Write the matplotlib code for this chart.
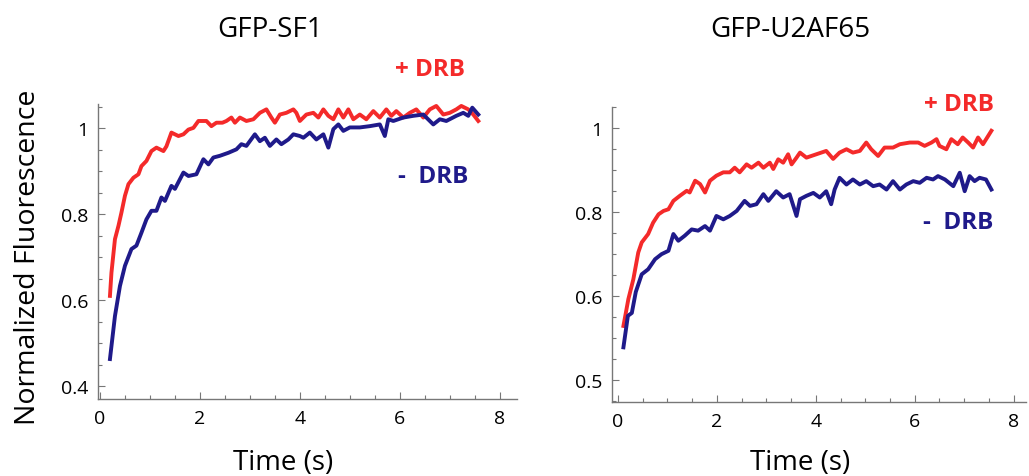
import matplotlib
matplotlib.use("Agg")
import matplotlib.pyplot as plt
from matplotlib.ticker import FixedLocator, MultipleLocator

# ---------------- data ----------------
sf1_plus_t = [0.2, 0.23, 0.3, 0.37, 0.43, 0.5, 0.57, 0.67, 0.77, 0.83, 0.93, 1.03, 1.13, 1.27, 1.33, 1.43,
              1.57, 1.67, 1.77, 1.87, 1.97, 2.13, 2.23, 2.33, 2.45, 2.53, 2.63, 2.7, 2.8, 2.93, 3.07, 3.2,
              3.33, 3.43, 3.5, 3.6, 3.73, 3.87, 3.93, 4.0, 4.13, 4.27, 4.37, 4.47, 4.57, 4.67, 4.77, 4.87,
              4.97, 5.07, 5.2, 5.33, 5.47, 5.6, 5.73, 5.83, 5.93, 6.07, 6.2, 6.33, 6.47, 6.6, 6.73, 6.87,
              7.0, 7.13, 7.23, 7.37, 7.47, 7.57]
sf1_plus_v = [0.61, 0.664, 0.742, 0.773, 0.804, 0.843, 0.87, 0.885, 0.893, 0.912, 0.924, 0.947, 0.955,
              0.947, 0.958, 0.99, 0.982, 0.986, 0.997, 1.001, 1.017, 1.017, 1.005, 1.013, 1.013, 1.017,
              1.025, 1.013, 1.025, 1.017, 1.021, 1.036, 1.044, 1.025, 1.013, 1.032, 1.036, 1.044, 1.036,
              1.017, 1.032, 1.036, 1.025, 1.044, 1.029, 1.021, 1.044, 1.025, 1.044, 1.021, 1.032, 1.021,
              1.04, 1.025, 1.044, 1.029, 1.04, 1.025, 1.036, 1.044, 1.025, 1.044, 1.052, 1.032, 1.036,
              1.044, 1.052, 1.044, 1.032, 1.017]
sf1_minus_t = [0.2, 0.3, 0.4, 0.5, 0.63, 0.73, 0.83, 0.93, 1.03, 1.13, 1.23, 1.3, 1.43, 1.5, 1.67, 1.77,
               1.93, 2.07, 2.17, 2.27, 2.4, 2.57, 2.73, 2.83, 2.93, 3.1, 3.2, 3.3, 3.4, 3.53, 3.63, 3.77,
               3.87, 4.0, 4.07, 4.2, 4.33, 4.47, 4.57, 4.67, 4.77, 4.87, 5.0, 5.2, 5.4, 5.6, 5.7, 5.77,
               5.87, 6.07, 6.27, 6.47, 6.67, 6.8, 6.93, 7.13, 7.27, 7.37, 7.45, 7.57]
sf1_minus_v = [0.463, 0.563, 0.633, 0.68, 0.719, 0.727, 0.757, 0.788, 0.808, 0.808, 0.839, 0.831, 0.866,
               0.859, 0.897, 0.889, 0.893, 0.928, 0.916, 0.932, 0.936, 0.943, 0.951, 0.963, 0.959, 0.986,
               0.97, 0.978, 0.959, 0.974, 0.963, 0.974, 0.986, 0.982, 0.978, 0.99, 0.974, 0.986, 0.955,
               0.998, 1.009, 0.994, 1.002, 1.002, 1.005, 1.009, 0.982, 1.021, 1.017, 1.025, 1.029, 1.032,
               1.009, 1.021, 1.017, 1.029, 1.036, 1.029, 1.048, 1.032]

u2_plus_t = [0.11, 0.21, 0.31, 0.41, 0.48, 0.61, 0.71, 0.82, 0.92, 1.02, 1.12, 1.25, 1.39, 1.45, 1.56,
             1.66, 1.76, 1.86, 1.99, 2.13, 2.26, 2.36, 2.46, 2.6, 2.7, 2.84, 2.94, 3.07, 3.14, 3.24, 3.34,
             3.44, 3.51, 3.61, 3.68, 3.81, 4.01, 4.21, 4.35, 4.48, 4.62, 4.75, 4.89, 5.02, 5.12, 5.26,
             5.39, 5.56, 5.7, 5.9, 6.07, 6.2, 6.34, 6.44, 6.5, 6.64, 6.74, 6.87, 6.97, 7.08, 7.18, 7.28,
             7.38, 7.55]
u2_plus_v = [0.529, 0.593, 0.64, 0.704, 0.728, 0.748, 0.775, 0.795, 0.803, 0.807, 0.827, 0.839, 0.851,
             0.847, 0.875, 0.867, 0.847, 0.875, 0.887, 0.895, 0.895, 0.906, 0.895, 0.914, 0.906, 0.918,
             0.906, 0.918, 0.903, 0.926, 0.918, 0.938, 0.914, 0.93, 0.942, 0.93, 0.938, 0.946, 0.927,
             0.942, 0.95, 0.942, 0.946, 0.966, 0.95, 0.934, 0.954, 0.954, 0.962, 0.966, 0.966, 0.958,
             0.966, 0.974, 0.958, 0.95, 0.974, 0.962, 0.978, 0.966, 0.954, 0.978, 0.962, 0.994]
u2_minus_t = [0.11, 0.2, 0.28, 0.36, 0.48, 0.61, 0.75, 0.88, 1.02, 1.12, 1.22, 1.35, 1.49, 1.62, 1.76, 1.86,
              1.99, 2.13, 2.26, 2.4, 2.56, 2.67, 2.8, 2.94, 3.04, 3.2, 3.34, 3.47, 3.61, 3.68, 3.81, 3.95,
              4.08, 4.21, 4.31, 4.38, 4.48, 4.62, 4.75, 4.89, 5.02, 5.16, 5.29, 5.43, 5.56, 5.7, 5.83,
              5.97, 6.1, 6.24, 6.37, 6.47, 6.61, 6.78, 6.91, 7.01, 7.11, 7.21, 7.31, 7.44, 7.55]
u2_minus_v = [0.478, 0.553, 0.56, 0.61, 0.652, 0.664, 0.688, 0.7, 0.708, 0.748, 0.732, 0.744, 0.759, 0.756,
              0.767, 0.756, 0.791, 0.783, 0.791, 0.803, 0.827, 0.815, 0.819, 0.843, 0.827, 0.85, 0.835,
              0.843, 0.791, 0.831, 0.839, 0.846, 0.835, 0.85, 0.819, 0.854, 0.882, 0.866, 0.878, 0.866,
              0.874, 0.862, 0.866, 0.854, 0.874, 0.854, 0.866, 0.874, 0.87, 0.882, 0.878, 0.886, 0.878,
              0.862, 0.894, 0.85, 0.886, 0.874, 0.882, 0.878, 0.854]

titles = ["GFP-SF1", "GFP-U2AF65"]
x_ticks = [0, 2, 4, 6, 8]
x_ticklabels = ["0", "2", "4", "6", "8"]
left_yticks = [0.4, 0.6, 0.8, 1.0]
left_yticklabels = ["0.4", "0.6", "0.8", "1"]
right_yticks = [0.4, 0.6, 0.8, 1.0]
right_yticklabels = ["0.5", "0.6", "0.8", "1"]
plus_label = "+ DRB"
minus_label = "-  DRB"
ylabel = "Normalized Fluorescence"
xlabel = "Time (s)"

RED = "#f42a2a"
BLUE = "#1f1a8a"
FONT = ["Open Sans", "DejaVu Sans"]

fig = plt.figure(figsize=(10.29, 4.77), dpi=100)
axL = fig.add_axes([0.0952, 0.1614, 0.407, 0.618])
axR = fig.add_axes([0.5948, 0.155, 0.4023, 0.618])

def style(ax, yt, ytl, xlim, ylim):
    ax.set_xlim(*xlim)
    ax.set_ylim(*ylim)
    for s in ["top", "right"]:
        ax.spines[s].set_visible(False)
    for s in ["left", "bottom"]:
        ax.spines[s].set_color("#777777")
        ax.spines[s].set_linewidth(1.0)
    ax.xaxis.set_major_locator(FixedLocator(x_ticks))
    ax.set_xticklabels(x_ticklabels)
    ax.yaxis.set_major_locator(FixedLocator(yt))
    ax.set_yticklabels(ytl)
    ax.xaxis.set_minor_locator(MultipleLocator(0.5))
    ax.yaxis.set_minor_locator(MultipleLocator(0.05))
    ax.tick_params(which="both", direction="in", color="#777777", width=0.8)
    ax.tick_params(which="major", length=5, labelsize=14, pad=7)
    ax.tick_params(which="minor", length=3)
    for lab in ax.get_xticklabels() + ax.get_yticklabels():
        lab.set_family(FONT)

LW = 2.8
axL.plot(sf1_plus_t, sf1_plus_v, color=RED, lw=LW)
axL.plot(sf1_minus_t, sf1_minus_v, color=BLUE, lw=LW)
style(axL, left_yticks, left_yticklabels, (-0.04, 8.34), (0.370, 1.056))

axR.plot(u2_plus_t, u2_plus_v, color=RED, lw=LW)
axR.plot(u2_minus_t, u2_minus_v, color=BLUE, lw=LW)
style(axR, right_yticks, right_yticklabels, (-0.12, 8.25), (0.3476, 1.05))

lab_kw = dict(fontsize=17.5, fontweight="bold", ha="center", va="center", family=FONT, clip_on=False)
axL.text(6.6, 1.137, plus_label, color=RED, **lab_kw)
axL.text(6.66, 0.888, minus_label, color=BLUE, **lab_kw)
axR.text(6.89, 1.057, plus_label, color=RED, **lab_kw)
axR.text(6.87, 0.776, minus_label, color=BLUE, **lab_kw)

fig.text(270 / 1029, 1 - 30 / 477, titles[0], fontsize=20, ha="center", va="center", family=FONT)
fig.text(790 / 1029, 1 - 30 / 477, titles[1], fontsize=20, ha="center", va="center", family=FONT)
fig.text(283 / 1029, 1 - 463 / 477, xlabel, fontsize=20, ha="center", va="center", family=FONT)
fig.text(800 / 1029, 1 - 463 / 477, xlabel, fontsize=20, ha="center", va="center", family=FONT)
fig.text(28 / 1029, 1 - 257 / 477, ylabel, fontsize=20.5, ha="center", va="center", rotation=90, family=FONT)

fig.savefig("out.png", dpi=100)
